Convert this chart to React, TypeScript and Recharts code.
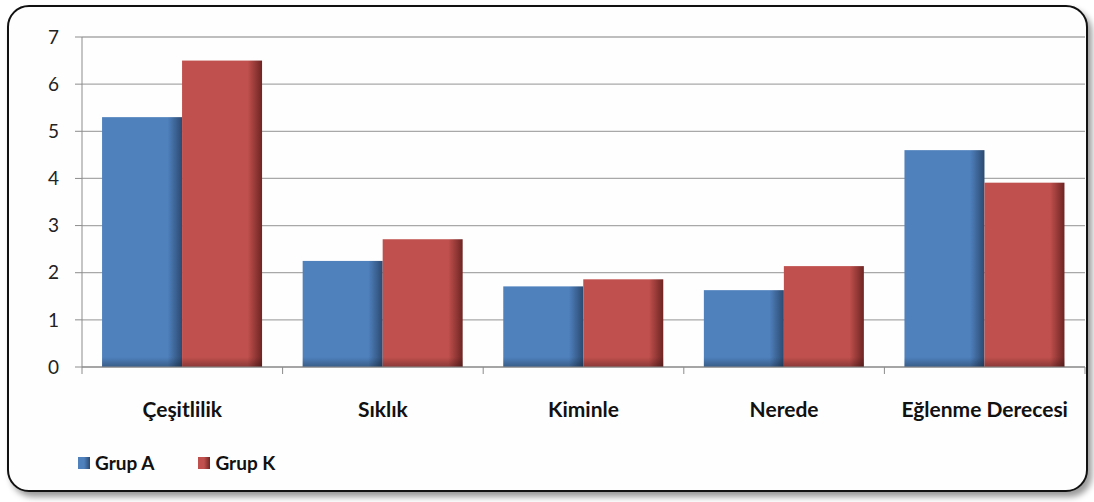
import React from 'react';
import { BarChart, Bar, XAxis, YAxis, CartesianGrid, Legend } from 'recharts';

const categories = ['Çeşitlilik', 'Sıklık', 'Kiminle', 'Nerede', 'Eğlenme Derecesi'];
const grupA = [5.3, 2.25, 1.71, 1.63, 4.6];
const grupK = [6.5, 2.71, 1.86, 2.14, 3.91];
const seriesNames = ['Grup A', 'Grup K'];
const yTicks = [0, 1, 2, 3, 4, 5, 6, 7];

const data = categories.map((name, i) => ({ name, a: grupA[i], k: grupK[i] }));

const BLUE = '#4f81bd';
const RED = '#c0504d';
const AXIS = '#8c8c8c';
const FONT = 'Lato, "Open Sans", sans-serif';

// Bar body with darkened right edge and bottom, like an Office chart shadow bevel
const ShadedBar = (props: any) => {
  const { x, y, width, height, gradId } = props;
  if (!height || height <= 0) return null;
  return (
    <g>
      <rect x={x} y={y} width={width} height={height} fill={`url(#${gradId})`} />
      <rect x={x} y={y + height - 10} width={width} height={10} fill="url(#bottomShade)" />
    </g>
  );
};

const CategoryTick = (props: any) => {
  const { x, y, payload, index, visibleTicksCount, width } = props;
  const half = payload?.offset ?? width / visibleTicksCount / 2;
  return (
    <g>
      <line x1={x - half} x2={x - half} y1={y} y2={y + 7} stroke={AXIS} strokeWidth={1} />
      {index === visibleTicksCount - 1 && (
        <line x1={x + half} x2={x + half} y1={y} y2={y + 7} stroke={AXIS} strokeWidth={1} />
      )}
      <text
        x={x}
        y={y + 50}
        textAnchor="middle"
        fontFamily={FONT}
        fontWeight={700}
        fontSize={21}
        fill="#111"
      >
        {payload.value}
      </text>
    </g>
  );
};

const renderLegend = () => {
  const colors = ['blueGrad', 'redGrad'];
  return (
    <div style={{ display: 'flex', alignItems: 'center', fontFamily: FONT, fontWeight: 700, fontSize: 19, color: '#111' }}>
      {seriesNames.map((n, i) => (
        <div key={n} style={{ display: 'flex', alignItems: 'center', marginRight: 44 }}>
          <svg width={12} height={12} style={{ marginRight: 5 }}>
            <rect x={0} y={0} width={12} height={12} fill={`url(#${colors[i]}L)`} />
          </svg>
          <span>{n}</span>
        </div>
      ))}
    </div>
  );
};

export default function App() {
  return (
    <div style={{ position: 'absolute', left: 0, top: 0, width: 1094, height: 502, background: '#fff' }}>
      <div
        style={{
          position: 'absolute',
          left: 7,
          top: 5,
          width: 1077,
          height: 483,
          border: '2px solid #111',
          borderRadius: 22,
          boxShadow: '4px 5px 6px rgba(0,0,0,0.4)',
          background: '#fefefe',
        }}
      />
      <div style={{ position: 'absolute', left: 0, top: 0 }}>
        <BarChart
          width={1094}
          height={502}
          data={data}
          margin={{ top: 37, right: 9, left: 0, bottom: 75 }}
          barCategoryGap="10%"
          barGap={0}
        >
          <defs>
            <linearGradient id="blueGrad" x1="0" y1="0" x2="1" y2="0">
              <stop offset="0" stopColor={BLUE} />
              <stop offset="0.82" stopColor={BLUE} />
              <stop offset="1" stopColor="#2b4a70" />
            </linearGradient>
            <linearGradient id="redGrad" x1="0" y1="0" x2="1" y2="0">
              <stop offset="0" stopColor={RED} />
              <stop offset="0.82" stopColor={RED} />
              <stop offset="1" stopColor="#6e2523" />
            </linearGradient>
            <linearGradient id="blueGradL" x1="0" y1="0" x2="1" y2="0">
              <stop offset="0" stopColor={BLUE} />
              <stop offset="0.5" stopColor={BLUE} />
              <stop offset="1" stopColor="#2b4a70" />
            </linearGradient>
            <linearGradient id="redGradL" x1="0" y1="0" x2="1" y2="0">
              <stop offset="0" stopColor={RED} />
              <stop offset="0.5" stopColor={RED} />
              <stop offset="1" stopColor="#6e2523" />
            </linearGradient>
            <linearGradient id="bottomShade" x1="0" y1="0" x2="0" y2="1">
              <stop offset="0" stopColor="#000" stopOpacity={0} />
              <stop offset="1" stopColor="#000" stopOpacity={0.28} />
            </linearGradient>
          </defs>
          <CartesianGrid vertical={false} stroke="#a8a8a8" strokeWidth={1.3} />
          <XAxis
            dataKey="name"
            height={60}
            axisLine={{ stroke: AXIS }}
            tickLine={false}
            tickSize={0}
            tickMargin={0}
            interval={0}
            tick={<CategoryTick />}
          />
          <YAxis
            width={82}
            domain={[0, 7]}
            ticks={yTicks}
            axisLine={{ stroke: AXIS }}
            tickLine={{ stroke: AXIS }}
            tickSize={7}
            tickMargin={16}
            tick={{ fontFamily: FONT, fontSize: 19, fill: '#222' }}
          />
          <Legend
            layout="horizontal"
            verticalAlign="middle"
            align="center"
            wrapperStyle={{ position: 'absolute', left: 78, top: 451, width: 'auto' }}
            content={renderLegend}
          />
          <Bar dataKey="a" name={seriesNames[0]} fill={BLUE} isAnimationActive={false} shape={<ShadedBar gradId="blueGrad" />} />
          <Bar dataKey="k" name={seriesNames[1]} fill={RED} isAnimationActive={false} shape={<ShadedBar gradId="redGrad" />} />
        </BarChart>
      </div>
    </div>
  );
}
